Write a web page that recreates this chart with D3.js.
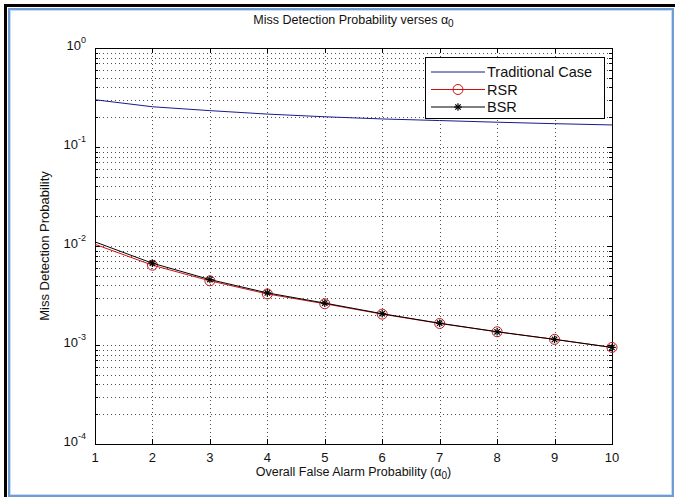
<!DOCTYPE html>
<html>
<head>
<meta charset="utf-8">
<script src="https://cdn.jsdelivr.net/npm/d3@7"></script>
<style>
  body { margin: 0; background: #fff; }
  svg { display: block; font-family: "Liberation Sans", Arial, sans-serif; }
</style>
</head>
<body>
<svg id="chart"></svg>
<script>
// data
const alphaValues = [1, 2, 3, 4, 5, 6, 7, 8, 9, 10];
const traditional = [0.30, 0.255, 0.233, 0.215, 0.202, 0.192, 0.185, 0.178, 0.172, 0.167];
const rsr = [0.0104, 0.0064, 0.00445, 0.00328, 0.00261, 0.00205, 0.00165, 0.00136, 0.00114, 0.000945];
const bsr = [0.0110, 0.0067, 0.00458, 0.00336, 0.00265, 0.00207, 0.00166, 0.00136, 0.00114, 0.000945];
const xTicks = [1, 2, 3, 4, 5, 6, 7, 8, 9, 10];
const yDecades = [0, -1, -2, -3, -4];

const width = 675, height = 497;
const margin = {top: 48, right: 63, bottom: 53, left: 95};

const svg = d3.select("#chart")
    .attr("width", width)
    .attr("height", height);

// window frame
svg.append("path")
    .attr("d", "M5.5,497 V5.5 H675")
    .attr("fill", "none")
    .attr("stroke", "#000")
    .attr("stroke-width", 3);
svg.append("rect")
    .attr("x", 9).attr("y", 9)
    .attr("width", 664).attr("height", 487)
    .attr("fill", "none")
    .attr("stroke", "#6f9ad3")
    .attr("stroke-width", 2);
svg.append("rect")
    .attr("x", 10.5).attr("y", 10.5)
    .attr("width", 661).attr("height", 484)
    .attr("fill", "none")
    .attr("stroke", "#c7dcf3")
    .attr("stroke-width", 1);

const x = d3.scaleLinear()
    .domain([1, 10])
    .range([margin.left, width - margin.right]);
const y = d3.scaleLog()
    .domain([1e-4, 1])
    .range([height - margin.bottom, margin.top]);

const x0 = x.range()[0], x1 = x.range()[1];
const yb = y.range()[0], yt = y.range()[1];

// grid
let minorVals = [];
for (let e = -4; e < 0; e++) {
    for (let m = 1; m <= 9; m++) minorVals.push(m * Math.pow(10, e));
}
const grid = svg.append("g")
    .attr("stroke", "#222")
    .attr("stroke-width", 1)
    .attr("stroke-dasharray", "1,3")
    .attr("opacity", 0.8);
grid.selectAll(".gy").data(minorVals.filter(v => v > 1e-4)).join("line")
    .attr("x1", x0).attr("x2", x1)
    .attr("y1", d => Math.round(y(d)) + 0.5)
    .attr("y2", d => Math.round(y(d)) + 0.5);
grid.selectAll(".gx").data(xTicks.slice(1, -1)).join("line")
    .attr("x1", d => Math.round(x(d)) + 0.5)
    .attr("x2", d => Math.round(x(d)) + 0.5)
    .attr("y1", yt).attr("y2", yb);

// axes (ticks inward, box on)
const axisG = svg.append("g").attr("font-size", 13).attr("fill", "#111");
const tickLen = 5, minorLen = 3;
const tk = axisG.append("g").attr("stroke", "#000").attr("stroke-width", 1);
xTicks.forEach(d => {
    const px = Math.round(x(d)) + 0.5;
    tk.append("line").attr("x1", px).attr("x2", px).attr("y1", yb).attr("y2", yb - tickLen);
    tk.append("line").attr("x1", px).attr("x2", px).attr("y1", yt).attr("y2", yt + tickLen);
});
minorVals.forEach(d => {
    const py = Math.round(y(d)) + 0.5;
    const isMajor = Math.abs(Math.log10(d) - Math.round(Math.log10(d))) < 1e-9;
    const len = isMajor ? tickLen : minorLen;
    tk.append("line").attr("x1", x0).attr("x2", x0 + len).attr("y1", py).attr("y2", py);
    tk.append("line").attr("x1", x1).attr("x2", x1 - len).attr("y1", py).attr("y2", py);
});
tk.append("rect")
    .attr("x", x0 + 0.5).attr("y", yt + 0.5)
    .attr("width", x1 - x0).attr("height", yb - yt)
    .attr("fill", "none");

axisG.selectAll(".xl").data(xTicks).join("text")
    .attr("x", d => x(d))
    .attr("y", yb + 18)
    .attr("text-anchor", "middle")
    .text(d => d);

const yl = axisG.selectAll(".yl").data(yDecades).join("text")
    .attr("x", x0 - 9)
    .attr("y", d => y(Math.pow(10, d)) + 2)
    .attr("text-anchor", "end");
yl.append("tspan").text("10");
yl.append("tspan")
    .attr("dy", -7)
    .attr("font-size", 9)
    .text(d => d);

// titles
const title = svg.append("text")
    .attr("x", (x0 + x1) / 2)
    .attr("y", 24)
    .attr("text-anchor", "middle")
    .attr("font-size", 12.5)
    .attr("fill", "#111");
title.append("tspan").text("Miss Detection Probability verses \u03b1");
title.append("tspan").attr("dy", 3).attr("font-size", 10).text("0");

const xlab = svg.append("text")
    .attr("x", (x0 + x1) / 2)
    .attr("y", yb + 32)
    .attr("text-anchor", "middle")
    .attr("font-size", 12.5)
    .attr("fill", "#111");
xlab.append("tspan").text("Overall False Alarm Probability (\u03b1");
xlab.append("tspan").attr("dy", 3).attr("font-size", 10).text("0");
xlab.append("tspan").attr("dy", -3).text(")");

svg.append("text")
    .attr("transform", `translate(49,${(yt + yb) / 2}) rotate(-90)`)
    .attr("text-anchor", "middle")
    .attr("font-size", 13)
    .attr("fill", "#111")
    .text("Miss Detection Probability");

// lines
const line = d3.line()
    .x((d, i) => x(alphaValues[i]))
    .y(d => y(d));

const plot = svg.append("g");
plot.append("path").datum(traditional)
    .attr("d", line).attr("fill", "none")
    .attr("stroke", "#1a1a8c").attr("stroke-width", 1);
plot.append("path").datum(rsr)
    .attr("d", line).attr("fill", "none")
    .attr("stroke", "#d01010").attr("stroke-width", 1);

function star(g, cx, cy, r) {
    [0, 45, 90, 135].forEach(a => {
        const rad = a * Math.PI / 180;
        g.append("line")
            .attr("x1", cx - r * Math.cos(rad)).attr("y1", cy - r * Math.sin(rad))
            .attr("x2", cx + r * Math.cos(rad)).attr("y2", cy + r * Math.sin(rad))
            .attr("stroke", "#000").attr("stroke-width", 1.2);
    });
}

plot.selectAll(".rsrm").data(rsr.slice(1)).join("circle")
    .attr("cx", (d, i) => x(alphaValues[i + 1]))
    .attr("cy", d => y(d))
    .attr("r", 5)
    .attr("fill", "none")
    .attr("stroke", "#c01818");

plot.append("path").datum(bsr)
    .attr("d", line).attr("fill", "none")
    .attr("stroke", "#000").attr("stroke-width", 1);
bsr.slice(1).forEach((d, i) => star(plot, x(alphaValues[i + 1]), y(d), 3.8));

// legend
const lg = svg.append("g").attr("font-size", 14.5).attr("fill", "#111");
const lx = 425, ly = 57, lw = 179, lh = 61;
lg.append("rect")
    .attr("x", lx + 0.5).attr("y", ly + 0.5)
    .attr("width", lw).attr("height", lh)
    .attr("fill", "#fff").attr("stroke", "#000");
const items = [
    {name: "Traditional Case", color: "#1a1a8c", marker: null},
    {name: "RSR", color: "#d01010", marker: "circle"},
    {name: "BSR", color: "#000", marker: "star"}
];
items.forEach((it, i) => {
    const cy = ly + 15 + i * 17.5;
    lg.append("line")
        .attr("x1", lx + 6).attr("x2", lx + 60)
        .attr("y1", cy).attr("y2", cy)
        .attr("stroke", it.color);
    if (it.marker === "circle") {
        lg.append("circle").attr("cx", lx + 33).attr("cy", cy).attr("r", 5)
            .attr("fill", "none").attr("stroke", it.color);
    } else if (it.marker === "star") {
        star(lg, lx + 33, cy, 3.8);
    }
    lg.append("text")
        .attr("x", lx + 62).attr("y", cy + 5)
        .text(it.name);
});
</script>
</body>
</html>
